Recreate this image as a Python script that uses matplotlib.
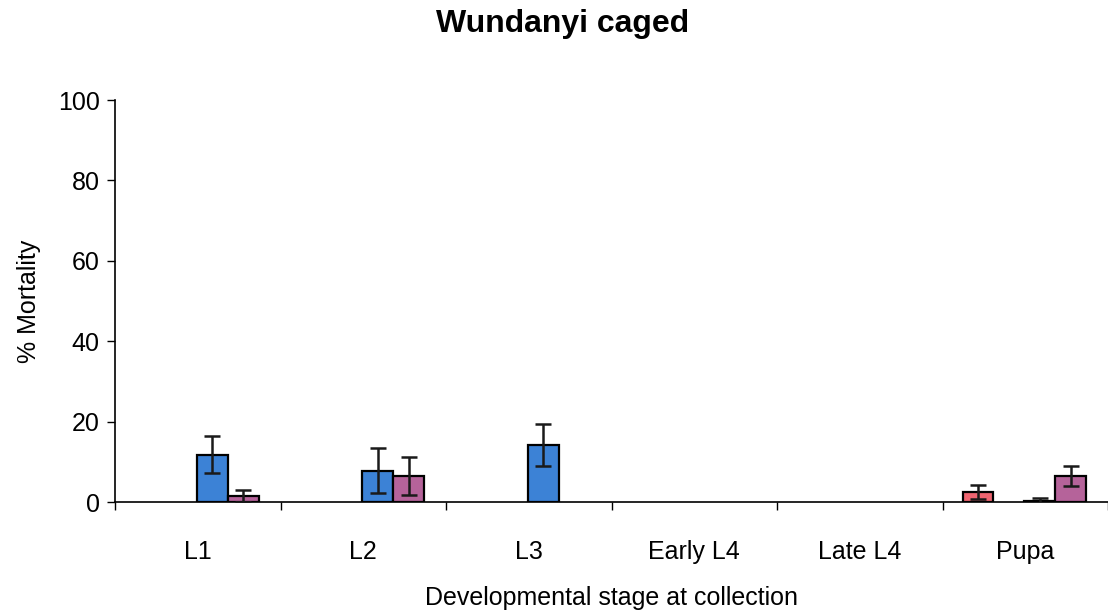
import matplotlib
matplotlib.use("Agg")
import matplotlib.pyplot as plt
import numpy as np

plt.rcParams['font.family'] = ['Liberation Sans', 'DejaVu Sans']

categories = ["L1", "L2", "L3", "Early L4", "Late L4", "Pupa"]
nan = np.nan
# four series per group (slot 2 has no visible bars)
red_vals = [nan, nan, nan, nan, nan, 2.5]
red_err = [nan, nan, nan, nan, nan, 1.7]
slot2_vals = [nan, nan, nan, nan, nan, nan]
slot2_err = [nan, nan, nan, nan, nan, nan]
blue_vals = [11.8, 7.8, 14.2, nan, nan, 0.3]
blue_err = [4.6, 5.6, 5.2, nan, nan, 0.8]
purple_vals = [1.5, 6.5, nan, nan, nan, 6.5]
purple_err = [1.5, 4.7, nan, nan, nan, 2.5]

series = [
    (red_vals, red_err, "#ee6470"),
    (slot2_vals, slot2_err, "#888888"),
    (blue_vals, blue_err, "#3c82d6"),
    (purple_vals, purple_err, "#b5639a"),
]

fig = plt.figure(figsize=(11.08, 6.14), dpi=100)
ax = fig.add_axes([0.1038, 0.1824, 0.8962, 0.6546])

x = np.arange(len(categories))
w = 0.187
shift = -0.005
for i, (vals, errs, col) in enumerate(series):
    off = (i - 1.5) * w + shift
    v = np.array(vals, dtype=float)
    e = np.array(errs, dtype=float)
    mask = ~np.isnan(v)
    if not mask.any():
        continue
    ax.bar(x[mask] + off, v[mask], width=w, color=col, edgecolor="black",
           linewidth=1.6, zorder=2)
    ax.errorbar(x[mask] + off, v[mask], yerr=e[mask], fmt="none",
                ecolor="#1a1a1a", elinewidth=1.8, capsize=6, capthick=1.8,
                zorder=3)

ax.set_xlim(-0.5, len(categories) - 0.5)
ax.set_ylim(0, 100)
ax.set_yticks([0, 20, 40, 60, 80, 100])
ax.tick_params(axis="y", labelsize=18, length=6, width=1, pad=5)
ax.set_xticks(np.arange(len(categories) + 1) - 0.5, minor=False)
ax.set_xticklabels([])
ax.set_xticks(x, minor=True)
ax.set_xticklabels(categories, minor=True)
ax.tick_params(axis="x", which="major", length=6, width=1)
ax.tick_params(axis="x", which="minor", length=0, labelsize=18, pad=27)

for s in ["top", "right"]:
    ax.spines[s].set_visible(False)
ax.spines["left"].set_linewidth(1.2)
ax.spines["bottom"].set_linewidth(1.2)

ax.set_ylabel("% Mortality", fontsize=18, labelpad=12)
ax.set_xlabel("Developmental stage at collection", fontsize=18, labelpad=16)
fig.suptitle("Wundanyi caged", fontsize=23, fontweight="bold", x=0.508, y=0.985)

fig.savefig("out.png", dpi=100)
